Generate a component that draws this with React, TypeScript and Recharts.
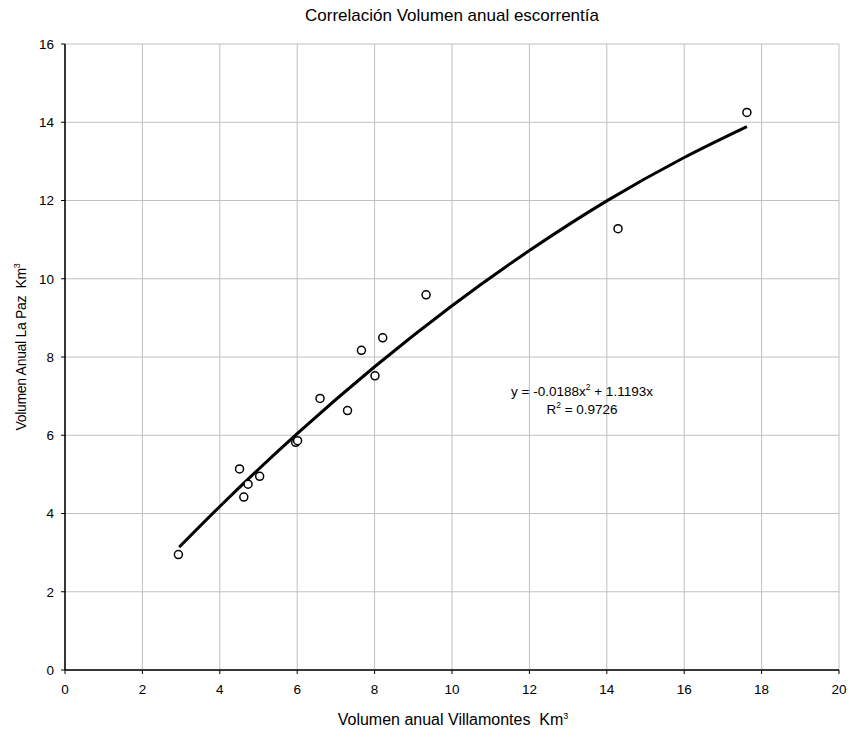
import { ComposedChart, Scatter, Line, XAxis, YAxis, CartesianGrid } from 'recharts';

const villamontes = [2.93, 4.51, 4.62, 4.73, 5.03, 5.96, 6.01, 6.59, 7.3, 7.66, 8.01, 8.21, 9.33, 14.29, 17.62];
const laPaz = [2.95, 5.14, 4.42, 4.75, 4.95, 5.82, 5.86, 6.94, 6.63, 8.17, 7.52, 8.49, 9.59, 11.28, 14.25];

// trend line
const trendX = [2.95, 4, 6, 8, 10, 12, 14, 16, 17.62];
const trendY = [3.14, 4.18, 6.04, 7.75, 9.31, 10.72, 11.99, 13.1, 13.89];

const xTicks = [0, 2, 4, 6, 8, 10, 12, 14, 16, 18, 20];
const yTicks = [0, 2, 4, 6, 8, 10, 12, 14, 16];

const points = villamontes.map((x, i) => ({ x, y: laPaz[i] }));
const trend = trendX.map((x, i) => ({ x, y: trendY[i] }));

const FONT = '"Liberation Sans", Arial, sans-serif';
const tickStyle = { fill: '#000', fontSize: 13.5, fontFamily: FONT };
const supStyle = { fontSize: 9, position: 'relative' as const, top: -6, verticalAlign: 'baseline', lineHeight: 0 };

function Ring(props: any) {
  return <circle cx={props.cx} cy={props.cy} r={4} fill="#fff" stroke="#000" strokeWidth={1.5} />;
}

export default function App() {
  return (
    <div style={{ position: 'absolute', left: 0, top: 0, width: 848, height: 729, background: '#fff', fontFamily: FONT }}>
      <div style={{ position: 'absolute', left: 0, width: 904, top: 6, textAlign: 'center', fontSize: 17, lineHeight: '20px' }}>
        Correlación Volumen anual escorrentía
      </div>
      <ComposedChart width={848} height={729} margin={{ top: 44, right: 9, bottom: 0, left: 0 }}>
        <CartesianGrid stroke="#c0c0c0" strokeWidth={1} />
        <XAxis
          dataKey="x"
          type="number"
          domain={[0, 20]}
          ticks={xTicks}
          height={59}
          tick={tickStyle}
          tickSize={4}
          tickMargin={10}
          tickLine={{ stroke: '#000' }}
          axisLine={{ stroke: '#000', strokeWidth: 1.5 }}
          interval={0}
        />
        <XAxis xAxisId="top" orientation="top" type="number" domain={[0, 20]} height={0} tick={false} tickLine={false} axisLine={{ stroke: '#000', strokeWidth: 1.5 }} />
        <YAxis
          type="number"
          domain={[0, 16]}
          ticks={yTicks}
          width={65}
          tick={tickStyle}
          tickSize={4}
          tickMargin={7}
          tickLine={{ stroke: '#000' }}
          axisLine={{ stroke: '#000', strokeWidth: 1.5 }}
          interval={0}
        />
        <YAxis yAxisId="right" orientation="right" type="number" domain={[0, 16]} width={0} tick={false} tickLine={false} axisLine={{ stroke: '#000', strokeWidth: 1.5 }} />
        <Line data={trend} dataKey="y" type="monotone" stroke="#000" strokeWidth={3} dot={false} isAnimationActive={false} />
        <Scatter data={points} dataKey="y" shape={Ring} isAnimationActive={false} />
      </ComposedChart>
      <div style={{ position: 'absolute', left: 0, width: 906, top: 710, textAlign: 'center', fontSize: 16, lineHeight: '20px' }}>
        Volumen anual Villamontes&nbsp; Km<sup style={supStyle}>3</sup>
      </div>
      <div
        style={{
          position: 'absolute',
          left: 21,
          top: 347,
          transform: 'translate(-50%, -50%) rotate(-90deg)',
          whiteSpace: 'nowrap',
          fontSize: 14,
          letterSpacing: -0.3,
          lineHeight: '18px'
        }}
      >
        Volumen Anual La Paz&nbsp; Km<sup style={supStyle}>3</sup>
      </div>
      <div style={{ position: 'absolute', left: 482, width: 200, top: 383, textAlign: 'center', fontSize: 13.5, lineHeight: '18px' }}>
        y = -0.0188x<sup style={{ ...supStyle, fontSize: 8.5 }}>2</sup> + 1.1193x
        <br />
        R<sup style={{ ...supStyle, fontSize: 8.5 }}>2</sup> = 0.9726
      </div>
    </div>
  );
}
